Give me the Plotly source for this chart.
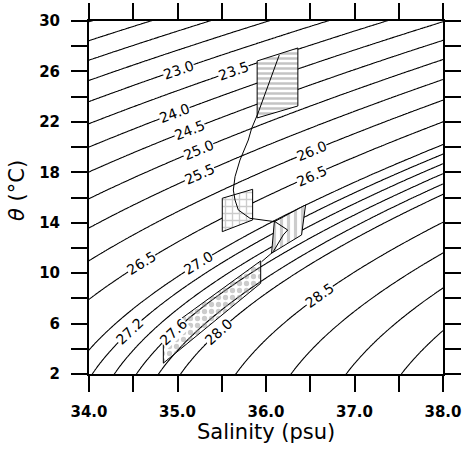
import numpy as np
import plotly.graph_objects as go

# ---------------- data ----------------
levels = [21.0, 21.5, 22.0, 22.5, 23.0, 23.5, 24.0, 24.5, 25.0, 25.5, 26.0, 26.5,
          27.0, 27.2, 27.4, 27.6, 27.8, 28.0, 28.5, 29.0, 29.5, 30.0]

label_levels = [23.0, 23.5, 24.0, 24.5, 25.0, 25.5, 26.0, 26.5, 26.5, 27.0, 27.2, 27.6, 28.0, 28.5]
label_sal = [35.01, 35.63, 34.97, 35.14, 35.235, 35.254, 36.516, 36.516, 34.595, 35.235, 34.463, 34.953, 35.461, 36.61]

box1_S = [35.90, 36.36, 36.36, 35.90]
box1_T = [26.83, 27.86, 23.26, 22.31]
box2_S = [35.506, 35.849, 35.849, 35.506]
box2_T = [15.94, 16.65, 14.22, 13.29]
box3_S = [36.094, 36.447, 36.402, 36.063]
box3_T = [14.08, 15.41, 13.03, 11.58]
box4_S = [34.84, 35.94, 35.94, 34.84]
box4_T = [5.36, 10.97, 9.20, 2.86]

path_S = [36.150, 35.906, 35.838, 35.800, 35.706, 35.650, 35.631, 35.650, 35.687,
          35.819, 36.102, 36.245, 36.195, 36.082, 35.951]
path_T = [27.30, 22.62, 21.49, 20.56, 18.97, 17.65, 16.59, 15.80, 15.01,
          14.35, 14.08, 13.42, 13.03, 11.70, 10.91]

x_ticks = [34.0, 35.0, 36.0, 37.0, 38.0]
y_ticks = [2, 6, 10, 14, 18, 22, 26, 30]


# ------------- UNESCO 1981 density at p = 0 -------------
def sigma0(S, T):
    rw = (999.842594 + 6.793952e-2 * T - 9.095290e-3 * T**2 + 1.001685e-4 * T**3
          - 1.120083e-6 * T**4 + 6.536332e-9 * T**5)
    a = 0.824493 - 4.0899e-3 * T + 7.6438e-5 * T**2 - 8.2467e-7 * T**3 + 5.3875e-9 * T**4
    b = -5.72466e-3 + 1.0227e-4 * T - 1.6546e-6 * T**2
    c = 4.8314e-4
    return rw + a * S + b * S**1.5 + c * S**2 - 1000.0


Sg = np.linspace(33.9, 38.1, 211)
Tg = np.linspace(1.5, 30.5, 291)
SS, TT = np.meshgrid(Sg, Tg)
Z = sigma0(SS, TT)

fig = go.Figure()
for lev in levels:
    fig.add_trace(go.Contour(
        x=Sg, y=Tg, z=Z, autocontour=False,
        contours=dict(start=lev, end=lev, size=1, coloring='none', showlabels=False),
        line=dict(color='black', width=1.1), showscale=False, hoverinfo='skip'))


def closed(a):
    return list(a) + [a[0]]


boxes = [
    (box1_S, box1_T, dict(shape='-', fgcolor='#8a8a8a', bgcolor='white', size=5, solidity=0.5)),
    (box2_S, box2_T, dict(shape='+', fgcolor='#9a9a9a', bgcolor='white', size=7, solidity=0.35)),
    (box3_S, box3_T, dict(shape='|', fgcolor='#999999', bgcolor='white', size=7, solidity=0.45)),
    (box4_S, box4_T, dict(shape='.', fgcolor='#999999', bgcolor='rgba(0,0,0,0)', size=7, solidity=0.45)),
]
for bs, bt, pat in boxes:
    fig.add_trace(go.Scatter(x=closed(bs), y=closed(bt), mode='lines', fill='toself',
                             fillpattern=pat, line=dict(color='black', width=1),
                             hoverinfo='skip'))

fig.add_trace(go.Scatter(x=path_S, y=path_T, mode='lines', line=dict(color='black', width=1),
                         hoverinfo='skip'))

# ------------- contour labels -------------
W, H = 465, 450
ml, mr, mt, mb = 89, 22, 21, 76
pw, ph = W - ml - mr, H - mt - mb
xr, yr = [34, 38], [2, 30]
px_per_S = pw / (xr[1] - xr[0])
px_per_T = ph / (yr[1] - yr[0])


def solve_T(S, lev):
    lo, hi = 1.0, 31.0
    for _ in range(60):
        mid = 0.5 * (lo + hi)
        if sigma0(S, mid) > lev:
            lo = mid
        else:
            hi = mid
    return 0.5 * (lo + hi)


for lev, s in zip(label_levels, label_sal):
    t = solve_T(s, lev)
    dS = (sigma0(s + 1e-3, t) - sigma0(s - 1e-3, t)) / 2e-3
    dT = (sigma0(s, t + 1e-3) - sigma0(s, t - 1e-3)) / 2e-3
    slope = -dS / dT * px_per_T / px_per_S
    ang = np.degrees(np.arctan(slope))
    fig.add_annotation(x=s, y=t, text=f"{lev:.1f}", showarrow=False, textangle=-ang,
                       font=dict(family='DejaVu Sans', size=14, color='black'),
                       bgcolor='white', borderpad=0)

fig.add_annotation(xref='paper', yref='paper', x=0.5, y=-(432 - (H - mb)) / ph,
                   text='Salinity (psu)', showarrow=False, xanchor='center', yanchor='middle',
                   font=dict(family='DejaVu Sans', size=21, color='black'))
fig.add_annotation(xref='paper', yref='paper', x=(17 - ml) / pw, y=((H - mb) - 191) / ph,
                   text='<i>θ</i> (°C)', showarrow=False, textangle=-90,
                   xanchor='center', yanchor='middle',
                   font=dict(family='DejaVu Sans', size=21, color='black'))

axis_common = dict(showline=True, linewidth=2, linecolor='black', mirror='ticks',
                   ticks='outside', ticklen=16, tickwidth=2, tickcolor='black',
                   showgrid=False, zeroline=False, automargin=False,
                   tickfont=dict(family='DejaVu Sans', size=15, color='black', weight='bold'))

fig.update_xaxes(range=xr, tickvals=x_ticks, ticktext=[f"{v:.1f}" for v in x_ticks],
                 minor=dict(dtick=0.5, tick0=34, ticklen=16, tickwidth=1.5,
                            tickcolor='black', ticks='outside', showgrid=False),
                 ticklabelstandoff=7, **axis_common)
fig.update_yaxes(range=yr, tickvals=y_ticks, ticktext=[str(v) for v in y_ticks],
                 minor=dict(dtick=2, tick0=0, ticklen=16, tickwidth=1.5,
                            tickcolor='black', ticks='outside', showgrid=False),
                 ticklabelstandoff=8, **axis_common)

fig.update_layout(width=W, height=H, margin=dict(l=ml, r=mr, t=mt, b=mb, autoexpand=False),
                  plot_bgcolor='white', paper_bgcolor='white', showlegend=False)

fig.write_html("out.html")
